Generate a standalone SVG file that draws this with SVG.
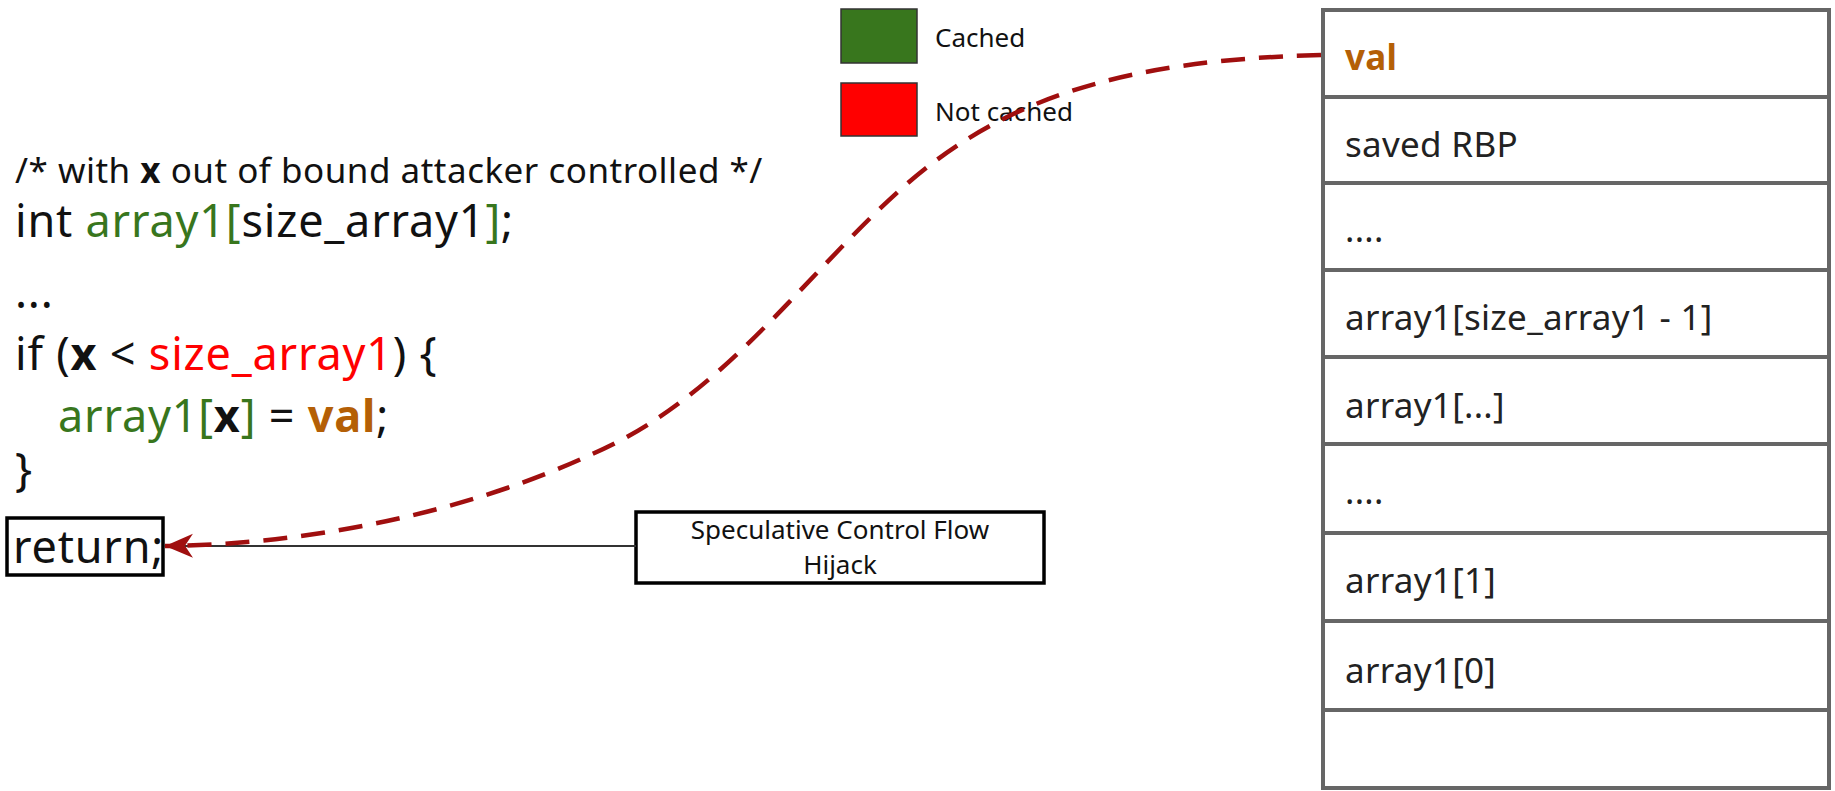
<svg xmlns="http://www.w3.org/2000/svg" width="1835" height="791" viewBox="0 0 1835 791">
  <style>
    .code { font-family: "Noto Sans", "Open Sans", sans-serif; font-size: 45px; letter-spacing: 0.8px; fill: #111; }
    .cmt { font-family: "Noto Sans", "Open Sans", sans-serif; font-size: 35px; letter-spacing: 0.5px; fill: #111; }
    .g { fill: #38761d; }
    .r { fill: #ff0000; }
    .b { font-weight: bold; }
    .o { fill: #b45f06; font-weight: bold; }
    .cell { fill: #ffffff; stroke: #666666; stroke-width: 4; }
    .st { font-family: "Noto Sans", "Open Sans", sans-serif; font-size: 35px; letter-spacing: 0.3px; fill: #222; }
    .st.val { fill: #b45f06; font-weight: bold; }
    .leg { font-family: "Noto Sans", "Open Sans", sans-serif; font-size: 26px; fill: #111; }
    .box { fill: #ffffff; stroke: #000; stroke-width: 3.5; }
    .lbl { font-family: "Noto Sans", "Open Sans", sans-serif; font-size: 26px; fill: #111; text-anchor: middle; }
  </style>
  <defs>
    <marker id="stealth" markerWidth="30" markerHeight="26" refX="28" refY="13" orient="auto" markerUnits="userSpaceOnUse">
      <path d="M28,13 L0,1 L8,13 L0,25 Z" fill="#a00f0f"/>
    </marker>
  </defs>
  <rect width="1835" height="791" fill="#ffffff"/>

  <g id="legend-cached">
    <rect x="841" y="9" width="76" height="54" fill="#38761d" stroke="#333" stroke-width="1.5"/>
    <text class="leg" x="935" y="47">Cached</text>
  </g>
  <g id="legend-not-cached">
    <rect x="841" y="83" width="76" height="53" fill="#ff0000" stroke="#333" stroke-width="1.5"/>
    <text class="leg" x="935" y="121">Not cached</text>
  </g>

  <g id="code">
    <text class="cmt" x="15" y="183">/* with <tspan class="b">x</tspan> out of bound attacker controlled */</text>
    <text class="code" x="15" y="237">int <tspan class="g">array1[</tspan>size_array1<tspan class="g">]</tspan>;</text>
    <text class="code" x="15" y="308">...</text>
    <text class="code" x="15" y="370">if (<tspan class="b">x</tspan> &lt; <tspan class="r">size_array1</tspan>) {</text>
    <text class="code" x="58" y="432"><tspan class="g">array1[</tspan><tspan class="b">x</tspan><tspan class="g">]</tspan> = <tspan class="o">val</tspan>;</text>
    <text class="code" x="15" y="486">}</text>
  </g>

  <g id="return-node">
    <rect class="box" x="7" y="518" width="156" height="57"/>
    <text class="code" x="13" y="563">return;</text>
  </g>

  <g id="spec-node">
    <rect class="box" x="636" y="512" width="408" height="71"/>
    <text class="lbl" x="840" y="539">Speculative Control Flow</text>
    <text class="lbl" x="840" y="574">Hijack</text>
  </g>

  <g id="stack">
    <rect class="cell" x="1323" y="10" width="506" height="87"/>
    <rect class="cell" x="1323" y="97" width="506" height="86"/>
    <rect class="cell" x="1323" y="183" width="506" height="87"/>
    <rect class="cell" x="1323" y="270" width="506" height="87"/>
    <rect class="cell" x="1323" y="357" width="506" height="87"/>
    <rect class="cell" x="1323" y="444" width="506" height="89"/>
    <rect class="cell" x="1323" y="533" width="506" height="88"/>
    <rect class="cell" x="1323" y="621" width="506" height="89"/>
    <rect class="cell" x="1323" y="710" width="506" height="78"/>
    <text class="st val" x="1345" y="70">val</text>
    <text class="st" x="1345" y="157">saved RBP</text>
    <text class="st" x="1345" y="242">....</text>
    <text class="st" x="1345" y="330">array1[size_array1 - 1]</text>
    <text class="st" x="1345" y="418">array1[...]</text>
    <text class="st" x="1345" y="504">....</text>
    <text class="st" x="1345" y="593">array1[1]</text>
    <text class="st" x="1345" y="683">array1[0]</text>
  </g>

  <g id="connectors">
    <line x1="636" y1="546" x2="164" y2="546" stroke="#333" stroke-width="2"/>
    <path d="M1321,55 C1120,60 1000,100 900,190 C800,280 720,400 590,455 C460,515 300,545 165,546" fill="none" stroke="#a00f0f" stroke-width="4.5" stroke-dasharray="24,14" marker-end="url(#stealth)"/>
  </g>
</svg>
